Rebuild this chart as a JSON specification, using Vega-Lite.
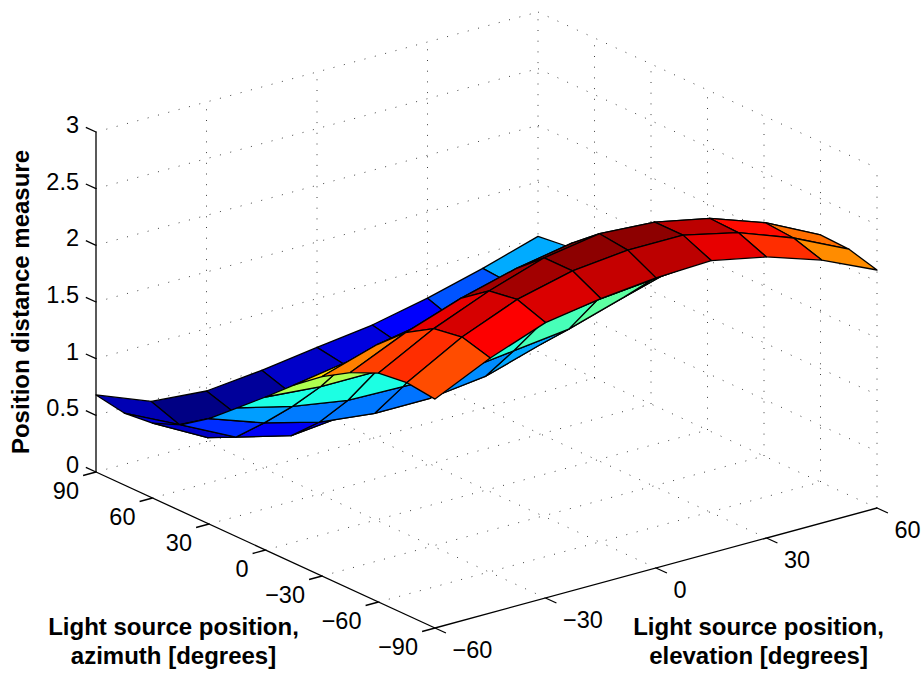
{"$schema":"https://vega.github.io/schema/vega-lite/v6.json","width":924,"height":675,"padding":0,"autosize":{"type":"none"},"background":"white","config":{"view":{"stroke":null},"text":{"font":"Liberation Sans"}},
"layer":[
{"data":{"values":[
{"el":-30,"az":-90,"z":0,"el2":-30,"az2":90,"z2":0},{"el":0,"az":-90,"z":0,"el2":0,"az2":90,"z2":0},{"el":30,"az":-90,"z":0,"el2":30,"az2":90,"z2":0},{"el":60,"az":-90,"z":0,"el2":60,"az2":90,"z2":0},
{"el":-60,"az":90,"z":0,"el2":60,"az2":90,"z2":0},{"el":-60,"az":60,"z":0,"el2":60,"az2":60,"z2":0},{"el":-60,"az":30,"z":0,"el2":60,"az2":30,"z2":0},{"el":-60,"az":0,"z":0,"el2":60,"az2":0,"z2":0},{"el":-60,"az":-30,"z":0,"el2":60,"az2":-30,"z2":0},{"el":-60,"az":-60,"z":0,"el2":60,"az2":-60,"z2":0},
{"el":-60,"az":90,"z":0.5,"el2":60,"az2":90,"z2":0.5},{"el":-60,"az":90,"z":1,"el2":60,"az2":90,"z2":1},{"el":-60,"az":90,"z":1.5,"el2":60,"az2":90,"z2":1.5},{"el":-60,"az":90,"z":2,"el2":60,"az2":90,"z2":2},{"el":-60,"az":90,"z":2.5,"el2":60,"az2":90,"z2":2.5},{"el":-60,"az":90,"z":3,"el2":60,"az2":90,"z2":3},
{"el":-30,"az":90,"z":0,"el2":-30,"az2":90,"z2":3},{"el":0,"az":90,"z":0,"el2":0,"az2":90,"z2":3},{"el":30,"az":90,"z":0,"el2":30,"az2":90,"z2":3},{"el":60,"az":90,"z":0,"el2":60,"az2":90,"z2":3},
{"el":60,"az":90,"z":0.5,"el2":60,"az2":-90,"z2":0.5},{"el":60,"az":90,"z":1,"el2":60,"az2":-90,"z2":1},{"el":60,"az":90,"z":1.5,"el2":60,"az2":-90,"z2":1.5},{"el":60,"az":90,"z":2,"el2":60,"az2":-90,"z2":2},{"el":60,"az":90,"z":2.5,"el2":60,"az2":-90,"z2":2.5},{"el":60,"az":90,"z":3,"el2":60,"az2":-90,"z2":3},
{"el":60,"az":60,"z":0,"el2":60,"az2":60,"z2":3},{"el":60,"az":30,"z":0,"el2":60,"az2":30,"z2":3},{"el":60,"az":0,"z":0,"el2":60,"az2":0,"z2":3},{"el":60,"az":-30,"z":0,"el2":60,"az2":-30,"z2":3},{"el":60,"az":-60,"z":0,"el2":60,"az2":-60,"z2":3},{"el":60,"az":-90,"z":0,"el2":60,"az2":-90,"z2":3}
]},
"transform":[{"calculate":"96+(datum.el+60)/120*442+(90-datum.az)/180*339","as":"sx"},{"calculate":"472-(datum.el+60)+(90-datum.az)/180*156-datum.z/3*340","as":"sy"},{"calculate":"96+(datum.el2+60)/120*442+(90-datum.az2)/180*339","as":"sx2"},{"calculate":"472-(datum.el2+60)+(90-datum.az2)/180*156-datum.z2/3*340","as":"sy2"}],
"mark":{"type":"rule","stroke":"#000000","strokeWidth":1,"strokeDash":[1,9.7],"opacity":0.75},
"encoding":{"x":{"field":"sx","type":"quantitative","axis":null,"scale":{"domain":[0,924],"nice":false,"zero":false}},"y":{"field":"sy","type":"quantitative","axis":null,"scale":{"domain":[675,0],"nice":false,"zero":false}},"x2":{"field":"sx2"},"y2":{"field":"sy2"}}},
{"data":{"values":[
{"el":-60,"az":90,"z":0,"el2":-60,"az2":90,"z2":3},{"el":-60,"az":90,"z":0,"el2":-60,"az2":-90,"z2":0},{"el":-60,"az":-90,"z":0,"el2":60,"az2":-90,"z2":0},
{"el":-60,"az":90,"z":0,"el2":-60,"az2":95.4,"z2":0},{"el":-60,"az":90,"z":0.5,"el2":-60,"az2":95.4,"z2":0.5},{"el":-60,"az":90,"z":1,"el2":-60,"az2":95.4,"z2":1},{"el":-60,"az":90,"z":1.5,"el2":-60,"az2":95.4,"z2":1.5},{"el":-60,"az":90,"z":2,"el2":-60,"az2":95.4,"z2":2},{"el":-60,"az":90,"z":2.5,"el2":-60,"az2":95.4,"z2":2.5},{"el":-60,"az":90,"z":3,"el2":-60,"az2":95.4,"z2":3},
{"el":-60,"az":90,"z":0,"el2":-63.5,"az2":90,"z2":0},{"el":-60,"az":60,"z":0,"el2":-63.5,"az2":60,"z2":0},{"el":-60,"az":30,"z":0,"el2":-63.5,"az2":30,"z2":0},{"el":-60,"az":0,"z":0,"el2":-63.5,"az2":0,"z2":0},{"el":-60,"az":-30,"z":0,"el2":-63.5,"az2":-30,"z2":0},{"el":-60,"az":-60,"z":0,"el2":-63.5,"az2":-60,"z2":0},{"el":-60,"az":-90,"z":0,"el2":-63.5,"az2":-90,"z2":0},
{"el":-60,"az":-90,"z":0,"el2":-60,"az2":-95.8,"z2":0},{"el":-30,"az":-90,"z":0,"el2":-30,"az2":-95.8,"z2":0},{"el":0,"az":-90,"z":0,"el2":0,"az2":-95.8,"z2":0},{"el":30,"az":-90,"z":0,"el2":30,"az2":-95.8,"z2":0},{"el":60,"az":-90,"z":0,"el2":60,"az2":-95.8,"z2":0}
]},
"transform":[{"calculate":"96+(datum.el+60)/120*442+(90-datum.az)/180*339","as":"sx"},{"calculate":"472-(datum.el+60)+(90-datum.az)/180*156-datum.z/3*340","as":"sy"},{"calculate":"96+(datum.el2+60)/120*442+(90-datum.az2)/180*339","as":"sx2"},{"calculate":"472-(datum.el2+60)+(90-datum.az2)/180*156-datum.z2/3*340","as":"sy2"}],
"mark":{"type":"rule","stroke":"#000000","strokeWidth":1.3},
"encoding":{"x":{"field":"sx","type":"quantitative"},"y":{"field":"sy","type":"quantitative"},"x2":{"field":"sx2"},"y2":{"field":"sy2"}}},
{"data":{"values":[
{"el":45,"az":90,"z1":0.87,"z2":1.02,"z3":1.05,"z4":0.85},{"el":30,"az":90,"z1":0.74,"z2":0.87,"z3":0.85,"z4":0.65},{"el":15,"az":90,"z1":0.635,"z2":0.74,"z3":0.65,"z4":0.58},{"el":0,"az":90,"z1":0.57,"z2":0.635,"z3":0.58,"z4":0.53},{"el":-15,"az":90,"z1":0.5,"z2":0.57,"z3":0.53,"z4":0.42},{"el":-30,"az":90,"z1":0.45,"z2":0.5,"z3":0.42,"z4":0.37},{"el":-45,"az":90,"z1":0.49,"z2":0.45,"z3":0.37,"z4":0.4},{"el":-60,"az":90,"z1":0.68,"z2":0.49,"z3":0.4,"z4":0.635,"c":0.48},
{"el":45,"az":75,"z1":0.85,"z2":1.05,"z3":0.95,"z4":0.78},{"el":30,"az":75,"z1":0.65,"z2":0.85,"z3":0.78,"z4":0.62},{"el":15,"az":75,"z1":0.58,"z2":0.65,"z3":0.62,"z4":0.55},{"el":0,"az":75,"z1":0.53,"z2":0.58,"z3":0.55,"z4":0.47},{"el":-15,"az":75,"z1":0.42,"z2":0.53,"z3":0.47,"z4":0.4},{"el":-30,"az":75,"z1":0.37,"z2":0.42,"z3":0.4,"z4":0.36},{"el":-45,"az":75,"z1":0.4,"z2":0.37,"z3":0.36,"z4":0.4},{"el":-60,"az":75,"z1":0.635,"z2":0.4,"z3":0.4,"z4":0.66,"c":0.56},
{"el":45,"az":60,"z1":0.78,"z2":0.95,"z3":0.98,"z4":0.82},{"el":30,"az":60,"z1":0.62,"z2":0.78,"z3":0.82,"z4":0.66},{"el":15,"az":60,"z1":0.55,"z2":0.62,"z3":0.66,"z4":0.58},{"el":0,"az":60,"z1":0.47,"z2":0.55,"z3":0.58,"z4":0.5},{"el":-15,"az":60,"z1":0.4,"z2":0.47,"z3":0.5,"z4":0.45},{"el":-30,"az":60,"z1":0.36,"z2":0.4,"z3":0.45,"z4":0.4},{"el":-45,"az":60,"z1":0.4,"z2":0.36,"z3":0.4,"z4":0.52},{"el":-60,"az":60,"z1":0.66,"z2":0.4,"z3":0.52,"z4":0.76},
{"el":45,"az":45,"z1":0.82,"z2":0.98,"z3":1.08,"z4":0.94},{"el":30,"az":45,"z1":0.66,"z2":0.82,"z3":0.94,"z4":0.79},{"el":15,"az":45,"z1":0.58,"z2":0.66,"z3":0.79,"z4":0.64},{"el":0,"az":45,"z1":0.5,"z2":0.58,"z3":0.64,"z4":0.58},{"el":-15,"az":45,"z1":0.45,"z2":0.5,"z3":0.58,"z4":0.58},{"el":-30,"az":45,"z1":0.4,"z2":0.45,"z3":0.58,"z4":0.635},{"el":-45,"az":45,"z1":0.52,"z2":0.4,"z3":0.635,"z4":0.76},{"el":-60,"az":45,"z1":0.76,"z2":0.52,"z3":0.76,"z4":0.93},
{"el":45,"az":30,"z1":0.94,"z2":1.08,"z3":1.33,"z4":1.19},{"el":30,"az":30,"z1":0.79,"z2":0.94,"z3":1.19,"z4":1.04},{"el":15,"az":30,"z1":0.64,"z2":0.79,"z3":1.04,"z4":0.98},{"el":0,"az":30,"z1":0.58,"z2":0.64,"z3":0.98,"z4":0.92},{"el":-15,"az":30,"z1":0.58,"z2":0.58,"z3":0.92,"z4":0.93},{"el":-30,"az":30,"z1":0.635,"z2":0.58,"z3":0.93,"z4":0.94},{"el":-45,"az":30,"z1":0.76,"z2":0.635,"z3":0.94,"z4":1.02},{"el":-60,"az":30,"z1":0.93,"z2":0.76,"z3":1.02,"z4":1.14},
{"el":45,"az":15,"z1":1.19,"z2":1.33,"z3":1.5,"z4":1.46},{"el":30,"az":15,"z1":1.04,"z2":1.19,"z3":1.46,"z4":1.41},{"el":15,"az":15,"z1":0.98,"z2":1.04,"z3":1.41,"z4":1.34},{"el":0,"az":15,"z1":0.92,"z2":0.98,"z3":1.34,"z4":1.3},{"el":-15,"az":15,"z1":0.93,"z2":0.92,"z3":1.3,"z4":1.31},{"el":-30,"az":15,"z1":0.94,"z2":0.93,"z3":1.31,"z4":1.31},{"el":-45,"az":15,"z1":1.02,"z2":0.94,"z3":1.31,"z4":1.31},{"el":-60,"az":15,"z1":1.14,"z2":1.02,"z3":1.31,"z4":1.35},
{"el":45,"az":0,"z1":1.46,"z2":1.5,"z3":1.7,"z4":1.72},{"el":30,"az":0,"z1":1.41,"z2":1.46,"z3":1.72,"z4":1.78},{"el":15,"az":0,"z1":1.34,"z2":1.41,"z3":1.78,"z4":1.78},{"el":0,"az":0,"z1":1.3,"z2":1.34,"z3":1.78,"z4":1.75},{"el":-15,"az":0,"z1":1.31,"z2":1.3,"z3":1.75,"z4":1.72},{"el":-30,"az":0,"z1":1.31,"z2":1.31,"z3":1.72,"z4":1.65},{"el":-45,"az":0,"z1":1.31,"z2":1.31,"z3":1.65,"z4":1.65},{"el":-60,"az":0,"z1":1.35,"z2":1.31,"z3":1.65,"z4":1.57},
{"el":45,"az":-15,"z1":1.72,"z2":1.7,"z3":1.9,"z4":2.08},{"el":30,"az":-15,"z1":1.78,"z2":1.72,"z3":2.08,"z4":2.2},{"el":15,"az":-15,"z1":1.78,"z2":1.78,"z3":2.2,"z4":2.25},{"el":0,"az":-15,"z1":1.75,"z2":1.78,"z3":2.25,"z4":2.2},{"el":-15,"az":-15,"z1":1.72,"z2":1.75,"z3":2.2,"z4":2.12},{"el":-30,"az":-15,"z1":1.65,"z2":1.72,"z3":2.12,"z4":2.0},{"el":-45,"az":-15,"z1":1.65,"z2":1.65,"z3":2.0,"z4":1.91},{"el":-60,"az":-15,"z1":1.57,"z2":1.65,"z3":1.91,"z4":1.76},
{"el":45,"az":-30,"z1":2.08,"z2":1.9,"z3":2.05,"z4":2.22},{"el":30,"az":-30,"z1":2.2,"z2":2.08,"z3":2.22,"z4":2.4},{"el":15,"az":-30,"z1":2.25,"z2":2.2,"z3":2.4,"z4":2.48},{"el":0,"az":-30,"z1":2.2,"z2":2.25,"z3":2.48,"z4":2.52},{"el":-15,"az":-30,"z1":2.12,"z2":2.2,"z3":2.52,"z4":2.43},{"el":-30,"az":-30,"z1":2.0,"z2":2.12,"z3":2.43,"z4":2.3},{"el":-45,"az":-30,"z1":1.91,"z2":2.0,"z3":2.3,"z4":2.13},{"el":-60,"az":-30,"z1":1.76,"z2":1.91,"z3":2.13,"z4":1.91},
{"el":45,"az":-45,"z1":2.22,"z2":2.05,"z3":2.18,"z4":2.42},{"el":30,"az":-45,"z1":2.4,"z2":2.22,"z3":2.42,"z4":2.59},{"el":15,"az":-45,"z1":2.48,"z2":2.4,"z3":2.59,"z4":2.69},{"el":0,"az":-45,"z1":2.52,"z2":2.48,"z3":2.69,"z4":2.72},{"el":-15,"az":-45,"z1":2.43,"z2":2.52,"z3":2.72,"z4":2.64},{"el":-30,"az":-45,"z1":2.3,"z2":2.43,"z3":2.64,"z4":2.48},{"el":-45,"az":-45,"z1":2.13,"z2":2.3,"z3":2.48,"z4":2.28},{"el":-60,"az":-45,"z1":1.91,"z2":2.13,"z3":2.28,"z4":2.02},
{"el":45,"az":-60,"z1":2.42,"z2":2.18,"z3":2.17,"z4":2.4},{"el":30,"az":-60,"z1":2.59,"z2":2.42,"z3":2.4,"z4":2.58},{"el":15,"az":-60,"z1":2.69,"z2":2.59,"z3":2.58,"z4":2.69},{"el":0,"az":-60,"z1":2.72,"z2":2.69,"z3":2.69,"z4":2.69},{"el":-15,"az":-60,"z1":2.64,"z2":2.72,"z3":2.69,"z4":2.64},{"el":-30,"az":-60,"z1":2.48,"z2":2.64,"z3":2.64,"z4":2.52},{"el":-45,"az":-60,"z1":2.28,"z2":2.48,"z3":2.52,"z4":2.32},{"el":-60,"az":-60,"z1":2.02,"z2":2.28,"z3":2.32,"z4":2.05},
{"el":45,"az":-75,"z1":2.4,"z2":2.17,"z3":2.1,"z4":2.32},{"el":30,"az":-75,"z1":2.58,"z2":2.4,"z3":2.32,"z4":2.48},{"el":15,"az":-75,"z1":2.69,"z2":2.58,"z3":2.48,"z4":2.58},{"el":0,"az":-75,"z1":2.69,"z2":2.69,"z3":2.58,"z4":2.56},{"el":-15,"az":-75,"z1":2.64,"z2":2.69,"z3":2.56,"z4":2.51},{"el":-30,"az":-75,"z1":2.52,"z2":2.64,"z3":2.51,"z4":2.43},{"el":-45,"az":-75,"z1":2.32,"z2":2.52,"z3":2.43,"z4":2.25},{"el":-60,"az":-75,"z1":2.05,"z2":2.32,"z3":2.25,"z4":2.02}
]},
"transform":[{"calculate":"isValid(datum.c)?datum.c:datum.z3","as":"level"},{"calculate":"datum.el+'_'+datum.az","as":"cell"},{"fold":["z1","z2","z3","z4"],"as":["corner","z"]},{"calculate":"datum.el+((datum.corner=='z2'||datum.corner=='z3')?15:0)","as":"e"},{"calculate":"datum.az-((datum.corner=='z3'||datum.corner=='z4')?15:0)","as":"a"},{"calculate":"96+(datum.e+60)/120*442+(90-datum.a)/180*339","as":"sx"},{"calculate":"472-(datum.e+60)+(90-datum.a)/180*156-datum.z/3*340","as":"sy"}],
"mark":{"type":"line","interpolate":"linear-closed","stroke":"#000000","strokeWidth":1.3,"strokeJoin":"round"},
"encoding":{"x":{"field":"sx","type":"quantitative"},"y":{"field":"sy","type":"quantitative"},"detail":{"field":"cell"},"order":{"field":"corner","type":"ordinal"},"fill":{"field":"level","type":"quantitative","legend":null,"scale":{"type":"linear","domain":[0.36,0.655,1.245,1.835,2.425,2.72],"range":["#000080","#0000ff","#00ffff","#ffff00","#ff0000","#800000"],"interpolate":"rgb"}}}},
{"data":{"values":[{"z":0,"t":"0"},{"z":0.5,"t":"0.5"},{"z":1,"t":"1"},{"z":1.5,"t":"1.5"},{"z":2,"t":"2"},{"z":2.5,"t":"2.5"},{"z":3,"t":"3"}]},
"transform":[{"calculate":"96","as":"sx"},{"calculate":"472-datum.z/3*340","as":"sy"}],
"mark":{"type":"text","align":"right","baseline":"middle","fontSize":23.5,"dx":-17,"dy":-6,"font":"Liberation Sans","fill":"#000000"},
"encoding":{"x":{"field":"sx","type":"quantitative"},"y":{"field":"sy","type":"quantitative"},"text":{"field":"t"}}},
{"data":{"values":[{"az":90,"t":"90"},{"az":60,"t":"60"},{"az":30,"t":"30"},{"az":0,"t":"0"},{"az":-30,"t":"−30"},{"az":-60,"t":"−60"},{"az":-90,"t":"−90"}]},
"transform":[{"calculate":"96+(90-datum.az)/180*339","as":"sx"},{"calculate":"472+(90-datum.az)/180*156","as":"sy"}],
"mark":{"type":"text","align":"right","baseline":"middle","fontSize":23.5,"dx":-17,"dy":20,"font":"Liberation Sans","fill":"#000000"},
"encoding":{"x":{"field":"sx","type":"quantitative"},"y":{"field":"sy","type":"quantitative"},"text":{"field":"t"}}},
{"data":{"values":[{"el":-60,"t":"−60"},{"el":-30,"t":"−30"},{"el":0,"t":"0"},{"el":30,"t":"30"},{"el":60,"t":"60"}]},
"transform":[{"calculate":"435+(datum.el+60)/120*442","as":"sx"},{"calculate":"628-(datum.el+60)","as":"sy"}],
"mark":{"type":"text","align":"left","baseline":"middle","fontSize":23.5,"dx":17.5,"dy":23,"font":"Liberation Sans","fill":"#000000"},
"encoding":{"x":{"field":"sx","type":"quantitative"},"y":{"field":"sy","type":"quantitative"},"text":{"field":"t"}}},
{"data":{"values":[{"az":0,"t":"Light source position,","d":78},{"az":0,"t":"azimuth [degrees]","d":107}]},
"transform":[{"calculate":"96+(90-datum.az)/180*339-92","as":"sx"},{"calculate":"472+(90-datum.az)/180*156+datum.d","as":"sy"}],
"mark":{"type":"text","align":"center","baseline":"middle","fontSize":24,"fontWeight":"bold","font":"Liberation Sans","fill":"#000000"},
"encoding":{"x":{"field":"sx","type":"quantitative"},"y":{"field":"sy","type":"quantitative"},"text":{"field":"t"}}},
{"data":{"values":[{"el":30,"t":"Light source position,","d":90},{"el":30,"t":"elevation [degrees]","d":119}]},
"transform":[{"calculate":"435+(datum.el+60)/120*442-8","as":"sx"},{"calculate":"628-(datum.el+60)+datum.d","as":"sy"}],
"mark":{"type":"text","align":"center","baseline":"middle","fontSize":24,"fontWeight":"bold","font":"Liberation Sans","fill":"#000000"},
"encoding":{"x":{"field":"sx","type":"quantitative"},"y":{"field":"sy","type":"quantitative"},"text":{"field":"t"}}},
{"data":{"values":[{"z":1.5,"t":"Position distance measure"}]},
"transform":[{"calculate":"96-74","as":"sx"},{"calculate":"472-datum.z/3*340","as":"sy"}],
"mark":{"type":"text","align":"center","baseline":"middle","angle":270,"fontSize":24,"fontWeight":"bold","font":"Liberation Sans","fill":"#000000"},
"encoding":{"x":{"field":"sx","type":"quantitative"},"y":{"field":"sy","type":"quantitative"},"text":{"field":"t"}}}
]}
